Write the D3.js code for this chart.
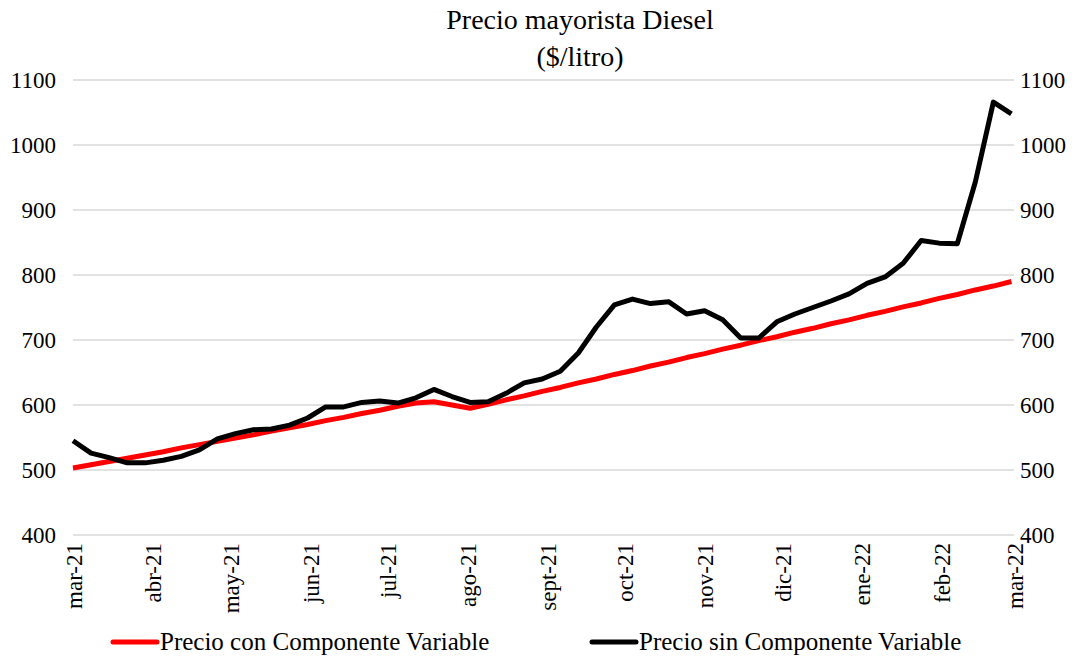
<!DOCTYPE html>
<html>
<head>
<meta charset="utf-8">
<script src="https://cdn.jsdelivr.net/npm/d3@7"></script>
<style>
	body { margin: 0; background: #fff; }
	svg text { font-family: "Liberation Serif", "Times New Roman", serif; fill: #000; }
</style>
</head>
<body>
<div id="chart"></div>
<script>
var weeks = [
	"2021-03-01", "2021-03-08", "2021-03-15", "2021-03-22", "2021-03-29",
	"2021-04-05", "2021-04-12", "2021-04-19", "2021-04-26",
	"2021-05-03", "2021-05-10", "2021-05-17", "2021-05-24", "2021-05-31",
	"2021-06-07", "2021-06-14", "2021-06-21", "2021-06-28",
	"2021-07-05", "2021-07-12", "2021-07-19", "2021-07-26",
	"2021-08-02", "2021-08-09", "2021-08-16", "2021-08-23", "2021-08-30",
	"2021-09-06", "2021-09-13", "2021-09-20", "2021-09-27",
	"2021-10-04", "2021-10-11", "2021-10-18", "2021-10-25",
	"2021-11-01", "2021-11-08", "2021-11-15", "2021-11-22", "2021-11-29",
	"2021-12-06", "2021-12-13", "2021-12-20", "2021-12-27",
	"2022-01-03", "2022-01-10", "2022-01-17", "2022-01-24", "2022-01-31",
	"2022-02-07", "2022-02-14", "2022-02-21", "2022-02-28"];

var conComponente = [
	503, 508, 513, 518, 523, 528, 534, 539, 544, 549,
	554, 560, 565, 570, 576, 581, 587, 592, 598, 603,
	605, 600, 595, 601, 608, 614, 621, 627, 634, 640,
	647, 653, 660, 666, 673, 679, 686, 692, 699, 705,
	712, 718, 725, 731, 738, 744, 751, 757, 764, 770,
	777, 783, 790];

var sinComponente = [
	545, 526, 519, 511, 511, 515, 521, 531, 548, 556,
	562, 563, 569, 580, 597, 597, 604, 606, 603, 611,
	624, 613, 604, 605, 618, 634, 640, 652, 680, 720,
	754, 763, 756, 759, 740, 745, 731, 703, 703, 728,
	740, 750, 760, 771, 787, 797, 818, 853, 849, 848,
	943, 1066, 1048];

var monthLabels = ["mar-21", "abr-21", "may-21", "jun-21", "jul-21", "ago-21",
	"sept-21", "oct-21", "nov-21", "dic-21", "ene-22", "feb-22", "mar-22"];
var yTicks = [400, 500, 600, 700, 800, 900, 1000, 1100];

var seriesNames = ["Precio con Componente Variable", "Precio sin Componente Variable"];
var seriesColors = ["#ff0000", "#000000"];

(function () {
	var width = 1082, height = 661;
	var left = 73, right = 1014, top = 80, bottom = 535;
	var parse = d3.timeParse("%Y-%m-%d");
	var dates = weeks.map(parse);

	var svg = d3.select("#chart").append("svg")
		.attr("width", width)
		.attr("height", height);

	var x = d3.scaleTime()
		.domain([parse("2021-03-01"), parse("2022-03-01")])
		.range([left, right]);
	var y = d3.scaleLinear()
		.domain([400, 1100])
		.range([bottom, top]);

	// grid
	svg.append("g")
		.selectAll("line")
		.data(yTicks)
		.enter()
			.append("line")
				.attr("x1", left)
				.attr("x2", right)
				.attr("y1", function (d) { return y(d); })
				.attr("y2", function (d) { return y(d); })
				.attr("stroke", "#d9d9d9")
				.attr("stroke-width", 1.5);

	// y axes, both sides
	var yLeft = svg.append("g")
		.attr("transform", "translate(" + (left - 17) + ",0)")
		.call(d3.axisLeft(y).tickValues(yTicks).tickFormat(d3.format("d")).tickSize(0).tickPadding(0));
	var yRight = svg.append("g")
		.attr("transform", "translate(" + (right + 6) + ",0)")
		.call(d3.axisRight(y).tickValues(yTicks).tickFormat(d3.format("d")).tickSize(0).tickPadding(0));
	[yLeft, yRight].forEach(function (g) {
		g.select(".domain").remove();
		g.selectAll("text")
			.attr("font-size", 23)
			.attr("font-family", "Liberation Serif");
	});

	// x axis with month labels
	var monthStarts = d3.timeMonth.range(parse("2021-03-01"), parse("2022-03-02"));
	var xAxis = svg.append("g")
		.attr("transform", "translate(0," + bottom + ")")
		.call(d3.axisBottom(x)
			.tickValues(monthStarts)
			.tickSize(0)
			.tickFormat(function (d, i) { return monthLabels[i]; }));
	xAxis.select(".domain").remove();
	xAxis.selectAll("text")
		.attr("font-size", 23)
		.attr("font-family", "Liberation Serif")
		.attr("text-anchor", "end")
		.attr("dy", "0.35em")
		.attr("transform", "translate(0,8) rotate(-90)")
		.attr("x", 0)
		.attr("y", 0);

	// lines
	var line = d3.line()
		.x(function (d) { return x(d[0]); })
		.y(function (d) { return y(d[1]); });

	[conComponente, sinComponente].forEach(function (values, k) {
		svg.append("path")
			.datum(dates.map(function (d, i) { return [d, values[i]]; }))
			.attr("fill", "none")
			.attr("stroke", seriesColors[k])
			.attr("stroke-width", 5)
			.attr("stroke-linejoin", "round")
			.attr("d", line);
	});

	// title
	svg.append("text")
		.attr("x", 580)
		.attr("y", 29)
		.attr("text-anchor", "middle")
		.attr("font-size", 28)
		.text("Precio mayorista Diesel");
	svg.append("text")
		.attr("x", 580)
		.attr("y", 66)
		.attr("text-anchor", "middle")
		.attr("font-size", 28)
		.text("($/litro)");

	// legend
	var legendX = [113, 592];
	seriesNames.forEach(function (name, k) {
		var g = svg.append("g")
			.attr("transform", "translate(" + legendX[k] + ",642)");
		g.append("line")
			.attr("x1", 0)
			.attr("x2", 44)
			.attr("stroke", seriesColors[k])
			.attr("stroke-width", 5)
			.attr("stroke-linecap", "round");
		g.append("text")
			.attr("x", 47)
			.attr("y", 8)
			.attr("font-size", 25)
			.text(name);
	});
})();
</script>
</body>
</html>
